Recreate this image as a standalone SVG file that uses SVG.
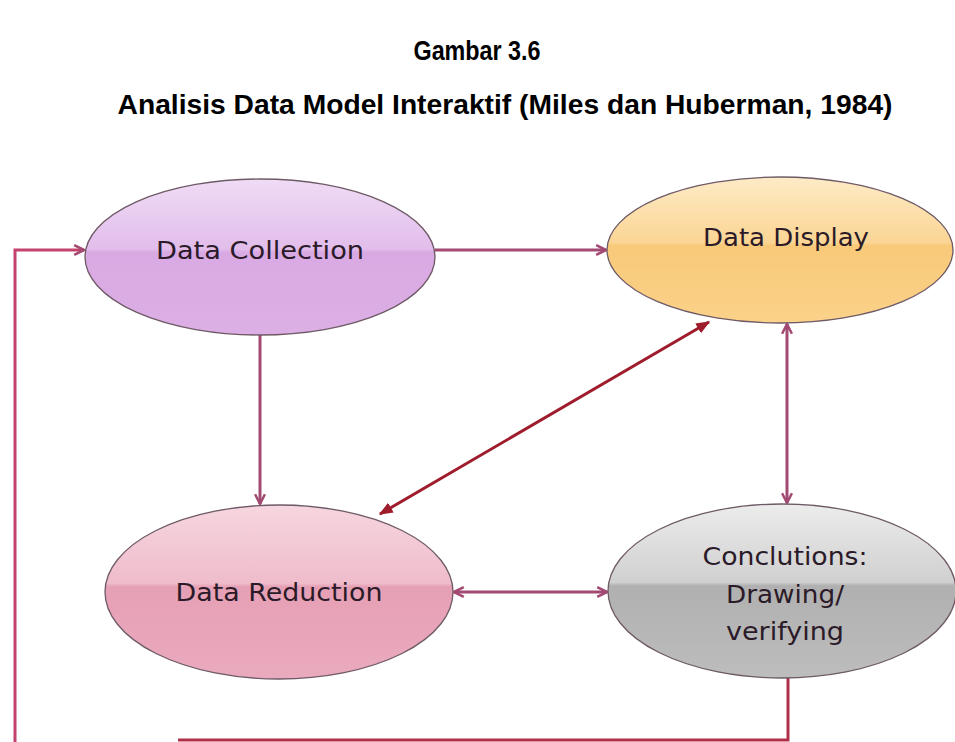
<svg xmlns="http://www.w3.org/2000/svg" width="955" height="742" viewBox="0 0 955 742">
  <defs>
    <linearGradient id="gPurple" x1="0" y1="0" x2="0" y2="1">
      <stop offset="0" stop-color="#efdcf5"/>
      <stop offset="0.45" stop-color="#e2bdeb"/>
      <stop offset="0.47" stop-color="#d9a9e3"/>
      <stop offset="1" stop-color="#dcafe5"/>
    </linearGradient>
    <linearGradient id="gOrange" x1="0" y1="0" x2="0" y2="1">
      <stop offset="0" stop-color="#fdebc6"/>
      <stop offset="0.45" stop-color="#fbd594"/>
      <stop offset="0.47" stop-color="#f8c978"/>
      <stop offset="1" stop-color="#fbd28a"/>
    </linearGradient>
    <linearGradient id="gPink" x1="0" y1="0" x2="0" y2="1">
      <stop offset="0" stop-color="#f6d6df"/>
      <stop offset="0.45" stop-color="#efbccb"/>
      <stop offset="0.47" stop-color="#e6a0b5"/>
      <stop offset="1" stop-color="#eaaabe"/>
    </linearGradient>
    <linearGradient id="gGray" x1="0" y1="0" x2="0" y2="1">
      <stop offset="0" stop-color="#ececec"/>
      <stop offset="0.45" stop-color="#d0d0d0"/>
      <stop offset="0.47" stop-color="#b0b0b0"/>
      <stop offset="1" stop-color="#bdbdbd"/>
    </linearGradient>
    <marker id="arrow" viewBox="0 0 10 10" refX="9" refY="5" markerWidth="14" markerHeight="14" orient="auto-start-reverse" markerUnits="userSpaceOnUse">
      <path d="M2,1.5 L9,5 L2,8.5" fill="none" stroke="#a24a72" stroke-width="1.8" stroke-linejoin="round"/>
    </marker>
    <marker id="arrowSolid" viewBox="0 0 10 10" refX="9" refY="5" markerWidth="14" markerHeight="14" orient="auto-start-reverse" markerUnits="userSpaceOnUse">
      <path d="M0,1 L10,5 L0,9 Z" fill="#9e1c2c"/>
    </marker>
  </defs>
  <style>
    .title { font-family: "Liberation Sans", Arial, sans-serif; font-weight: bold; font-size: 28px; fill: #000; text-anchor: middle; }
    .label { font-family: "DejaVu Sans", "Liberation Sans", sans-serif; font-size: 24px; fill: #2b1a28; text-anchor: middle; }
    .node { stroke: #6e5a66; stroke-width: 1.3; }
    .conn { fill: none; stroke: #a24a72; stroke-width: 3; }
    .diag { fill: none; stroke: #9e1c2c; stroke-width: 3; }
  </style>

  <rect width="955" height="742" fill="#ffffff"/>

  <text class="title" x="477" y="60" textLength="127" lengthAdjust="spacingAndGlyphs">Gambar 3.6</text>
  <text class="title" x="505" y="114" textLength="775" lengthAdjust="spacingAndGlyphs">Analisis Data Model Interaktif (Miles dan Huberman, 1984)</text>

  <g id="connectors">
    <!-- collection -> display -->
    <line class="conn" x1="435" y1="250" x2="606" y2="250" marker-end="url(#arrow)"/>
    <!-- collection -> reduction -->
    <line class="conn" x1="260" y1="335" x2="260" y2="504" marker-end="url(#arrow)"/>
    <!-- reduction <-> display -->
    <line class="diag" x1="380" y1="514" x2="709" y2="322" marker-start="url(#arrowSolid)" marker-end="url(#arrowSolid)"/>
    <!-- display <-> conclusions -->
    <line class="conn" x1="787" y1="324" x2="787" y2="503" marker-start="url(#arrow)" marker-end="url(#arrow)"/>
    <!-- reduction <-> conclusions -->
    <line class="conn" x1="454" y1="592" x2="607" y2="592" marker-start="url(#arrow)" marker-end="url(#arrow)"/>
    <!-- feedback loop from conclusions back to collection -->
    <path d="M788,678 V740 H178" fill="none" stroke="#b0304a" stroke-width="3"/>
    <path d="M15,742 V250 H84" fill="none" stroke="#c4426e" stroke-width="3" marker-end="url(#arrow)"/>
  </g>

  <g id="data-collection">
    <ellipse class="node" cx="260" cy="257" rx="175" ry="78" fill="url(#gPurple)"/>
    <text class="label" x="260" y="259" textLength="208" lengthAdjust="spacingAndGlyphs">Data Collection</text>
  </g>

  <g id="data-display">
    <ellipse class="node" cx="780" cy="250" rx="173" ry="73" fill="url(#gOrange)"/>
    <text class="label" x="786" y="246" textLength="166" lengthAdjust="spacingAndGlyphs">Data Display</text>
  </g>

  <g id="data-reduction">
    <ellipse class="node" cx="279" cy="592" rx="174" ry="87" fill="url(#gPink)"/>
    <text class="label" x="279" y="601" textLength="207" lengthAdjust="spacingAndGlyphs">Data Reduction</text>
  </g>

  <g id="conclusions">
    <ellipse class="node" cx="782" cy="591" rx="174" ry="87" fill="url(#gGray)"/>
    <text class="label" x="785" y="565" textLength="165" lengthAdjust="spacingAndGlyphs">Conclutions:</text>
    <text class="label" x="785" y="603" textLength="118" lengthAdjust="spacingAndGlyphs">Drawing/</text>
    <text class="label" x="785" y="640" textLength="118" lengthAdjust="spacingAndGlyphs">verifying</text>
  </g>
</svg>
